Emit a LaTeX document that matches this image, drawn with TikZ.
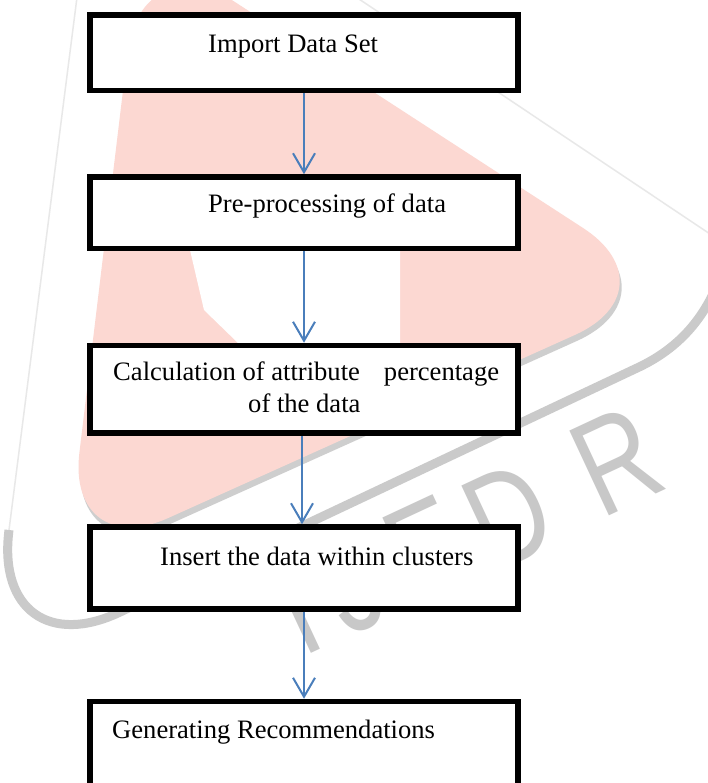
\documentclass[tikz,border=0pt]{standalone}
\usepackage{fontspec}
\setmainfont{Liberation Serif}
\newfontfamily\wmfont[FakeStretch=0.78]{Liberation Sans}
\usetikzlibrary{arrows.meta}
\definecolor{wmpink}{RGB}{252,216,210}
\definecolor{wmshadow}{RGB}{206,206,206}
\definecolor{wmline}{RGB}{232,232,232}
\definecolor{wmband}{RGB}{202,202,202}
\definecolor{wmtext}{RGB}{200,200,200}
\definecolor{arrowblue}{RGB}{74,126,187}
\tikzset{
  stepbox/.style={draw=black, line width=5.5pt, fill=white, rectangle,
    minimum width=428pt, inner sep=0pt},
  boxtext/.style={anchor=base west, inner sep=0pt, font=\fontsize{26.6}{32}\selectfont},
  flowarrow/.style={draw=arrowblue, line width=2pt,
    -{Straight Barb[length=19pt,width=22pt]}},
  wmletter/.style={anchor=base, inner sep=0pt, rotate=25, text=wmtext,
    font=\wmfont\fontsize{136}{136}\selectfont}
}
\begin{document}
\begin{tikzpicture}[x=1pt,y=-1pt]
\useasboundingbox (0,0) rectangle (708,783);
\fill[white] (0,0) rectangle (708,783);
\begin{scope}
\clip (0,0) rectangle (708,783);
% watermark
\draw[wmline, line width=1.5pt, rounded corners=150pt] (716,238) -- (99,-175) -- (9,530);
\draw[wmband, line width=9pt] (712,296) .. controls (695,330) and (670,352) .. (640,366.6)
   [rounded corners=140pt] -- (-7,672) -- (9,530);
\fill[wmshadow, rounded corners=112pt] (143,-53) -- (68,570) -- (679,295) -- cycle;
\fill[wmpink, rounded corners=112pt] (141,-59) -- (66,564) -- (677,289) -- cycle;
\fill[white] (190,250) -- (204,310) -- (238,343) -- (400,343) -- (400,250) -- cycle;
\node[wmletter] (wI) at (316,651) {I};
\node[wmletter] (wJ) at (372,626) {J};
\node[wmletter] (wE) at (447,592) {E};
\node[wmletter] (wD) at (528,558) {D};
\node[wmletter] (wR) at (636,503) {R};
% flowchart
\node[stepbox, minimum height=75.5pt] (b1) at (304,52.75) {};
\node[stepbox, minimum height=71.5pt] (b2) at (304,212.75) {};
\node[stepbox, minimum height=87.5pt] (b3) at (304,389.25) {};
\node[stepbox, minimum height=82pt] (b4) at (304,568) {};
\node[stepbox, minimum height=90pt] (b5) at (304,746.5) {};
\node[boxtext] (t1) at (208,53) {Import Data Set};
\node[boxtext] (t2) at (208,213) {Pre-processing of data};
\node[boxtext] (t3a) at (113,380) {Calculation of attribute\hspace{24pt}percentage};
\node[boxtext] (t3b) at (248,412) {of the data};
\node[boxtext] (t4) at (160,565) {Insert the data within clusters};
\node[boxtext] (t5) at (112,738) {Generating Recommendations};
\draw[flowarrow] (b1) -- (b2);
\draw[flowarrow] (b2) -- (b3);
\draw[flowarrow] ([xshift=-2pt]b3.south) -- ([xshift=-2pt]b4.north);
\draw[flowarrow] (b4) -- (b5);
\end{scope}
\end{tikzpicture}
\end{document}
